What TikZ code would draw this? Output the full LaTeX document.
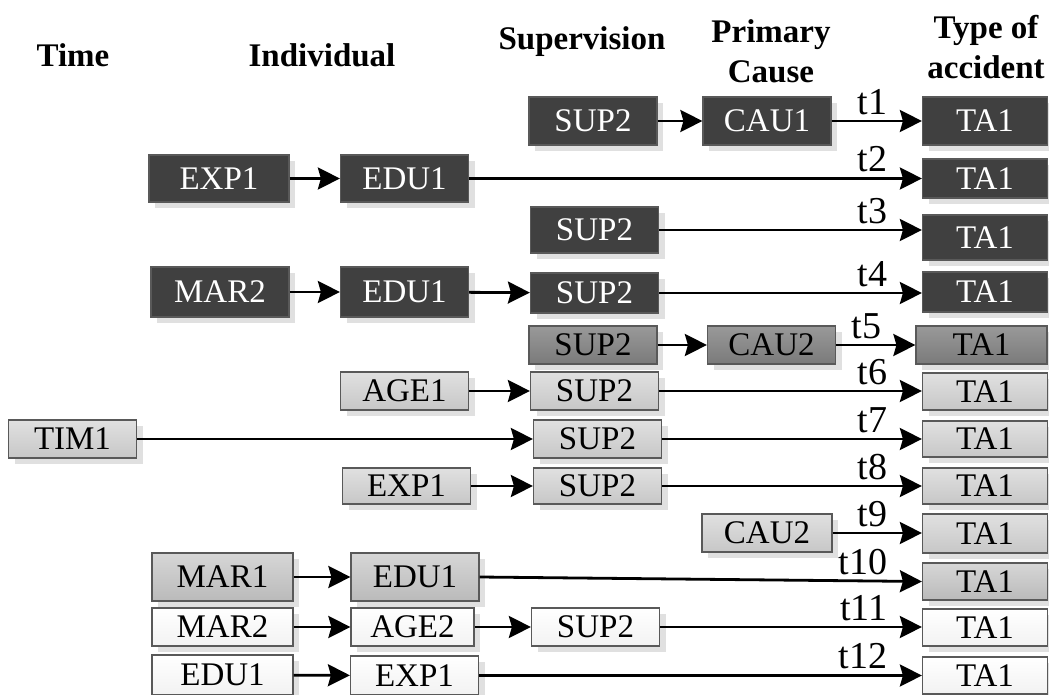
\documentclass[tikz,border=0pt]{standalone}
\usepackage{fontspec}
\setmainfont{Liberation Serif}
\usetikzlibrary{arrows.meta,shadows}

\begin{document}
\begin{tikzpicture}[x=0.5pt,y=-0.5pt,
  box/.style={draw=black!65,line width=0.6pt,inner sep=0pt,minimum width=64pt,
    font=\fontsize{16.5}{18}\selectfont,
    drop shadow={shadow xshift=3pt,shadow yshift=-3pt,fill=black!12,opacity=1}},
  dk/.style={fill=black!75,text=white},
  md/.style={top color=black!40,bottom color=black!52},
  lt/.style={top color=black!12,bottom color=black!22},
  lm/.style={top color=black!16,bottom color=black!27},
  wt/.style={top color=white,bottom color=black!5},
  head/.style={font=\fontsize{16.5}{20}\selectfont\bfseries,align=center},
  lab/.style={anchor=south east,inner sep=2.5pt,xshift=-14pt,font=\fontsize{19}{20}\selectfont},
  arr/.style={line width=1.4pt,-{Stealth[length=11pt,width=11pt,inset=1.5pt]}}]
\useasboundingbox (0,0) rectangle (1049,695);

% column titles
\node[head] (hTime) at (73,55) {Time};
\node[head] (hInd) at (322,55) {Individual};
\node[head] (hSup) at (582,42) {Supervision};
\node[head] (hCau) at (771,51) {Primary\\Cause};
\node[head] (hType) at (986,47) {Type of\\accident};

% row 1
\node[box,dk,minimum height=24pt] (sup1) at (593,121) {SUP2};
\node[box,dk,minimum height=24pt] (cau1) at (767,121) {CAU1};
% row 2
\node[box,dk,minimum width=70pt,minimum height=23.5pt] (exp2) at (219,178.5) {EXP1};
\node[box,dk,minimum height=23.5pt] (edu2) at (404.5,178.5) {EDU1};
% row 3
\node[box,dk,minimum height=23pt] (sup3) at (594.5,230) {SUP2};
% row 4
\node[box,dk,minimum width=69pt,minimum height=25pt] (mar4) at (220,292) {MAR2};
\node[box,dk,minimum height=25pt] (edu4) at (404.5,292) {EDU1};
\node[box,dk,minimum height=20pt] (sup4) at (594.5,293) {SUP2};
% row 5
\node[box,md,minimum height=19pt] (sup5) at (593,345) {SUP2};
\node[box,md,minimum height=19pt] (cau5) at (771.5,345) {CAU2};
% row 6
\node[box,lt,minimum height=19pt] (age6) at (404.5,391) {AGE1};
\node[box,lt,minimum height=19pt] (sup6) at (594.5,391) {SUP2};
% row 7
\node[box,lt,minimum height=19pt] (tim7) at (72.5,439) {TIM1};
\node[box,lt,minimum height=19pt] (sup7) at (597.5,439) {SUP2};
% row 8
\node[box,lt,minimum height=18pt] (exp8) at (406.5,486) {EXP1};
\node[box,lt,minimum height=18pt] (sup8) at (597.5,486) {SUP2};
% row 9
\node[box,lt,minimum width=65pt,minimum height=19pt] (cau9) at (767,533) {CAU2};
% row 10
\node[box,lm,minimum width=70.5pt,minimum height=24pt] (mar10) at (222.5,577) {MAR1};
\node[box,lm,minimum height=24pt] (edu10) at (415,577) {EDU1};
% row 11
\node[box,wt,minimum width=70.5pt,minimum height=19pt] (mar11) at (222.5,627) {MAR2};
\node[box,wt,minimum width=61.5pt,minimum height=19pt] (age11) at (412.5,627) {AGE2};
\node[box,wt,minimum height=19pt] (sup11) at (595.5,627) {SUP2};
% row 12
\node[box,wt,minimum width=70.5pt,minimum height=20pt] (edu12) at (222.5,675) {EDU1};
\node[box,wt,minimum height=19.5pt] (exp12) at (414.5,675.5) {EXP1};

% type of accident column
\foreach \i/\y/\h in {1/121/24,2/178.5/19.5,3/237.5/22.5,4/292/20}
  \node[box,dk,minimum width=62.5pt,minimum height=\h pt] (ta\i) at (985,\y) {TA1};
\node[box,md,minimum width=65.5pt,minimum height=19pt] (ta5) at (981.5,345) {TA1};
\foreach \i/\y/\h in {6/391.5/18.5,7/439/18,8/486/18,9/533.5/19.5}
  \node[box,lt,minimum width=62.5pt,minimum height=\h pt] (ta\i) at (985,\y) {TA1};
\node[box,lm,minimum width=62.5pt,minimum height=18.5pt] (ta10) at (985,581.5) {TA1};
\foreach \i/\y in {11/627.5,12/675.5}
  \node[box,wt,minimum width=62.5pt,minimum height=18.5pt] (ta\i) at (985,\y) {TA1};

% links between factors
\draw[arr] (sup1) -- (cau1);
\draw[arr] (exp2) -- (edu2);
\draw[arr] (mar4) -- (edu4);
\draw[arr] (edu4) -- (sup4);
\draw[arr] (sup5) -- (cau5);
\draw[arr] (age6) -- (sup6);
\draw[arr] (tim7) -- (sup7);
\draw[arr] (exp8) -- (sup8);
\draw[arr] (mar10) -- (edu10);
\draw[arr] (mar11) -- (age11);
\draw[arr] (age11) -- (sup11);
\draw[arr] (edu12) -- (exp12);

% links to accident type
\foreach \a/\i in {cau1/1,edu2/2,sup3/3,sup4/4,cau5/5,sup6/6,sup7/7,sup8/8,cau9/9,sup11/11,exp12/12}
  \draw[arr] (\a.east) -- (\a.east -| ta\i.west) node[lab] {t\i};
\draw[arr] (edu10.east) -- (ta10.west) node[lab] {t10};
\end{tikzpicture}
\end{document}
